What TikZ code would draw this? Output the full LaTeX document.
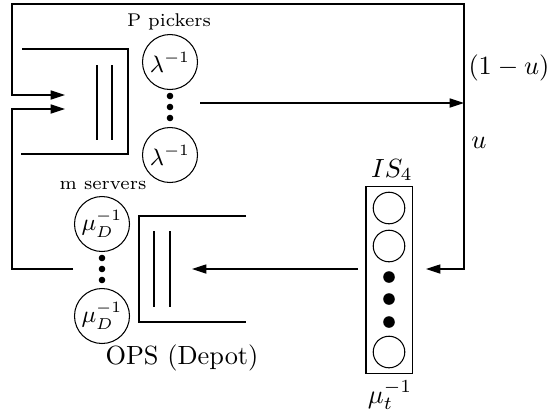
\documentclass[tikz,border=0pt]{standalone}
\usepackage{amsmath}
\usetikzlibrary{arrows.meta,positioning}

\begin{document}
\begin{tikzpicture}[
  x=0.38pt, y=-0.38pt,
  line/.style={-{Triangle[length=5.5pt,width=3.5pt]}},
  server/.style={circle,draw,minimum size=20.9pt,inner sep=0pt,font=\small},
  slot/.style={circle,draw,minimum size=12pt,inner sep=0pt},
  dot/.style={circle,fill,minimum size=2.5pt,inner sep=0pt},
  bigdot/.style={circle,fill,minimum size=4.4pt,inner sep=0pt},
  tag/.style={font=\scriptsize}
]
\useasboundingbox (0,0) rectangle (549,419);

% pickers queue
\draw (22,49) -- (128,49) -- (128,154) -- (21,154);
\draw (97,65) -- (97,140) (112,65) -- (112,140);
\node[server] (pick1) at (170,62) {$\lambda^{-1}$};
\node[server] (pick2) at (170,155) {$\lambda^{-1}$};
\foreach \y/\n in {96/1,107/2,118/3}
  \node[dot] (pdot\n) at (170,\y) {};
\node[tag] (pickers) at (169,22) {P pickers};

% depot queue
\draw (246,216) -- (139,216) -- (139,322) -- (246,322);
\draw (154,231) -- (154,307) (170,231) -- (170,307);
\node[server] (srv1) at (102,224) {$\mu_D^{-1}$};
\node[server] (srv2) at (102,316) {$\mu_D^{-1}$};
\foreach \y/\n in {258/1,269/2,280/3}
  \node[dot] (sdot\n) at (102,\y) {};
\node[tag] (servers) at (103,185) {m servers};
\node (ops) at (182,358) {OPS (Depot)};

% infinite server station
\node[draw,minimum width=17.5pt,minimum height=71.4pt,inner sep=0pt] (isbox) at (389,280) {};
\node[slot] (slot1) at (389,208) {};
\node[slot] (slot2) at (389,246) {};
\node[slot] (slot3) at (389,352) {};
\foreach \y/\n in {277/1,299/2,322/3}
  \node[bigdot] (idot\n) at (389,\y) {};
\node (istag) at (392,170) {$IS_4$};
\node (ist) at (390,395) {$\mu_t^{-1}$};

% routing
\coordinate (pout) at (200,103);
\coordinate (split) at (464,103);
\coordinate (topright) at (464,4);
\coordinate (topleft) at (12,4);
\coordinate (pin1) at (65,95);
\coordinate (pin2) at (65,109);
\coordinate (isin) at (426,269);
\coordinate (isout) at (358,269);
\coordinate (opsin) at (192,269);
\coordinate (opsout) at (73,269);
\coordinate (botleft) at (12,269);
\node[anchor=west,inner sep=0pt] (back) at (468,68) {$(1-u)$};
\node (fwd) at (479,143) {$u$};

\draw[line] (pout) -- (split);
\draw[line] (split) -- (topright) -- (topleft) |- (pin1);
\draw[line] (split) |- (isin);
\draw[line] (isout) -- (opsin);
\draw[line] (opsout) -- (botleft) |- (pin2);
\end{tikzpicture}
\end{document}
